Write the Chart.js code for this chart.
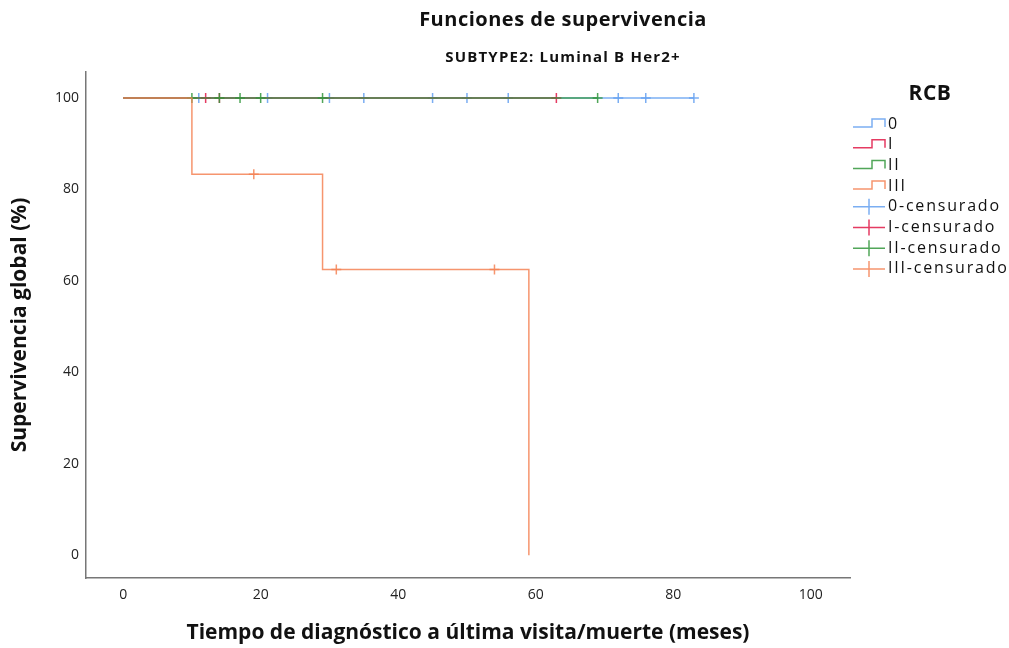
<!DOCTYPE html>
<html>
<head>
<meta charset="utf-8">
<script src="https://cdn.jsdelivr.net/npm/chart.js@4"></script>
<style>
  html, body { margin: 0; padding: 0; background: #fff; }
</style>
</head>
<body>
<canvas id="chart" width="1009" height="648"></canvas>
<script>
// Kaplan-Meier groups (RCB)
const groups = ['0', 'I', 'II', 'III'];
const groupColors = ['rgba(100,160,240,0.85)', 'rgba(225,25,70,0.85)', 'rgba(50,150,60,0.85)', 'rgba(245,130,85,0.85)'];

// survival step curves: time (months) and survival (%)
const curve0Time = [0, 83];
const curve0Surv = [100, 100];
const curve1Time = [0, 63];
const curve1Surv = [100, 100];
const curve2Time = [0, 69];
const curve2Surv = [100, 100];
const curve3Time = [0, 10, 29, 59];
const curve3Surv = [100, 83.33, 62.5, 0];

// censored observations
const cens0Time = [11, 21, 30, 35, 45, 50, 56, 72, 76, 83];
const cens0Surv = [100, 100, 100, 100, 100, 100, 100, 100, 100, 100];
const cens1Time = [12, 14, 63];
const cens1Surv = [100, 100, 100];
const cens2Time = [10, 14, 17, 20, 29, 69];
const cens2Surv = [100, 100, 100, 100, 100, 100];
const cens3Time = [19, 31, 54];
const cens3Surv = [83.33, 62.5, 62.5];

const xTicks = [0, 20, 40, 60, 80, 100];
const yTicks = [0, 20, 40, 60, 80, 100];

const curveTimes = [curve0Time, curve1Time, curve2Time, curve3Time];
const curveSurvs = [curve0Surv, curve1Surv, curve2Surv, curve3Surv];
const censTimes = [cens0Time, cens1Time, cens2Time, cens3Time];
const censSurvs = [cens0Surv, cens1Surv, cens2Surv, cens3Surv];

const toPoints = (xs, ys) => xs.map((x, i) => ({x: x, y: ys[i]}));

let datasets = [];
groups.forEach((g, i) => {
    datasets.push({
        label: g,
        data: toPoints(curveTimes[i], curveSurvs[i]),
        borderColor: groupColors[i],
        borderWidth: 1.5,
        stepped: 'before',
        pointRadius: 0,
        fill: false,
        order: 4 - i
    });
});
groups.forEach((g, i) => {
    datasets.push({
        label: g + '-censurado',
        data: toPoints(censTimes[i], censSurvs[i]),
        borderColor: groupColors[i],
        showLine: false,
        pointStyle: 'cross',
        pointRadius: 5,
        pointBorderWidth: 1.5,
        order: 4 - i
    });
});

const FONT = '"Open Sans", sans-serif';

const extras = {
    id: 'extras',
    afterDraw(chart) {
        const ctx = chart.ctx;
        ctx.save();
        ctx.fillStyle = '#111';
        ctx.textAlign = 'center';
        ctx.textBaseline = 'middle';
        ctx.font = 'bold 20px ' + FONT;
        ctx.letterSpacing = '0.5px';
        ctx.fillText('Funciones de supervivencia', 563, 20);
        ctx.font = 'bold 15px ' + FONT;
        ctx.letterSpacing = '1.2px';
        ctx.fillText('SUBTYPE2: Luminal B Her2+', 563, 58);

        // legend
        ctx.font = 'bold 21px ' + FONT;
        ctx.letterSpacing = '0.5px';
        ctx.fillText('RCB', 930, 94);
        ctx.textAlign = 'left';
        ctx.font = '16px ' + FONT;
        ctx.letterSpacing = '1.8px';
        const x0 = 853, x1 = 885, rowH = 20.7, y0 = 124;
        groups.forEach((g, i) => {
            const y = y0 + i * rowH;
            ctx.strokeStyle = groupColors[i];
            ctx.lineWidth = 1.5;
            ctx.beginPath();
            ctx.moveTo(x0, y + 3);
            ctx.lineTo(x0 + 19, y + 3);
            ctx.lineTo(x0 + 19, y - 5);
            ctx.lineTo(x1, y - 5);
            ctx.lineTo(x1, y + 3);
            ctx.stroke();
            ctx.fillStyle = '#111';
            ctx.fillText(g, x1 + 3, y);
        });
        groups.forEach((g, i) => {
            const y = y0 + (i + 4) * rowH;
            ctx.strokeStyle = groupColors[i];
            ctx.lineWidth = 1.5;
            ctx.beginPath();
            ctx.moveTo(x0, y);
            ctx.lineTo(x1, y);
            ctx.moveTo(x0 + 16, y - 8);
            ctx.lineTo(x0 + 16, y + 8);
            ctx.stroke();
            ctx.fillStyle = '#111';
            ctx.fillText(g + '-censurado', x1 + 3, y);
        });
        ctx.restore();
    }
};

new Chart(document.getElementById('chart'), {
    type: 'line',
    data: { datasets: datasets },
    plugins: [extras],
    options: {
        responsive: false,
        animation: false,
        devicePixelRatio: 1,
        layout: { padding: { left: 0, top: 72, right: 159, bottom: 0 } },
        plugins: {
            legend: { display: false },
            tooltip: { enabled: false }
        },
        scales: {
            x: {
                type: 'linear',
                min: -5.4,
                max: 105.7,
                afterBuildTicks: (scale) => { scale.ticks = xTicks.map(v => ({value: v})); },
                afterFit: (scale) => { scale.height = 70; },
                grid: { display: true, drawOnChartArea: false, drawTicks: false },
                border: { display: true, color: '#777', width: 1.5 },
                ticks: { color: '#222', font: { family: FONT, size: 14 }, padding: 9 },
                title: {
                    display: true,
                    text: 'Tiempo de diagnóstico a última visita/muerte (meses)',
                    color: '#111',
                    font: { family: FONT, size: 21, weight: 'bold' },
                    padding: { top: 4, bottom: 2 }
                }
            },
            y: {
                type: 'linear',
                min: -5,
                max: 105.7,
                afterBuildTicks: (scale) => { scale.ticks = yTicks.map(v => ({value: v})); },
                afterFit: (scale) => { scale.width = 86; },
                grid: { display: true, drawOnChartArea: false, drawTicks: false },
                border: { display: true, color: '#777', width: 1.5 },
                ticks: { color: '#222', font: { family: FONT, size: 14 }, padding: 7 },
                title: {
                    display: true,
                    text: 'Supervivencia global (%)',
                    color: '#111',
                    font: { family: FONT, size: 21, weight: 'bold' },
                    padding: { top: 7, bottom: 4 }
                }
            }
        }
    }
});
</script>
</body>
</html>
